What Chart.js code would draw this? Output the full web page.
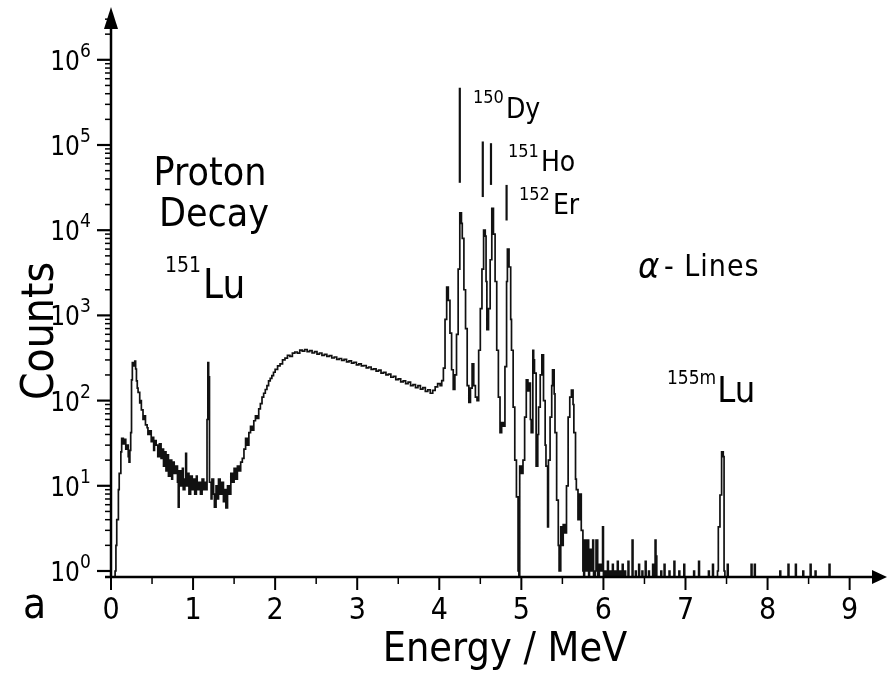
<!DOCTYPE html>
<html><head><meta charset="utf-8">
<script src="https://cdn.jsdelivr.net/npm/chart.js@4.4.1/dist/chart.umd.min.js"></script>
<style>html,body{margin:0;padding:0;background:#fff;}#wrap{width:887px;height:674px;}canvas{display:block;}</style>
</head><body><div id="wrap"><canvas id="c" width="887" height="674"></canvas></div>
<script>
// ---- data ----
const energyMeV = [
0.00,0.04,0.05,0.06,0.07,0.09,0.10,0.12,0.13,0.15,0.16,0.18,0.20,0.21,0.22,0.23,0.24,0.25,0.26,0.27,0.28,0.29,0.30,0.31,0.32,0.33,0.35,0.36,0.37,0.39,0.40,0.42,0.44,0.45,0.47,0.49,0.50,
0.52,0.53,0.55,0.57,0.59,0.61,0.62,0.64,0.65,0.67,0.69,0.70,0.72,0.74,0.75,0.77,0.79,0.81,0.82,0.83,0.85,0.87,0.88,0.90,0.91,0.92,0.94,0.95,0.97,0.99,
1.00,1.02,1.04,1.05,1.07,1.09,1.11,1.13,1.15,1.16,1.17,1.18,1.19,1.20,1.22,1.23,1.25,1.26,1.28,1.30,1.31,1.33,1.35,1.37,1.39,1.40,1.42,1.44,1.46,1.48,1.50,1.52,1.54,1.56,1.58,
1.60,1.62,1.64,1.66,1.68,1.70,1.72,1.74,1.76,1.78,
1.80,1.82,1.84,1.86,1.88,1.90,1.92,1.94,1.96,1.98,
2.00,2.03,2.06,2.09,2.12,2.15,2.18,2.21,2.24,2.27,
2.30,2.33,2.36,2.39,2.42,2.45,2.48,2.51,2.54,2.57,
2.60,2.63,2.66,2.69,2.72,2.75,2.78,2.81,2.84,2.87,
2.90,2.93,2.96,2.99,3.02,3.05,3.08,3.11,3.14,3.17,
3.20,3.23,3.26,3.29,3.32,3.35,3.38,3.41,3.44,3.47,
3.50,3.53,3.56,3.59,3.62,3.65,3.68,3.71,3.74,3.77,
3.80,3.83,3.86,3.89,3.92,3.95,3.98,4.01,4.03,4.05,
4.07,4.09,4.11,4.13,4.15,4.17,4.19,4.21,4.23,4.25,4.27,4.28,4.30,4.32,4.34,4.36,4.38,4.40,4.42,4.44,4.46,4.48,4.50,4.52,4.54,4.56,4.57,4.58,4.60,4.62,4.64,4.66,4.68,4.70,4.72,4.74,4.76,4.78,4.80,4.82,4.83,4.85,4.87,4.88,4.90,4.92,4.94,4.96,4.97,4.98,
5.00,5.02,5.04,5.06,5.08,5.09,5.11,5.12,5.14,5.15,5.16,5.18,5.20,5.21,5.23,5.25,5.27,5.29,5.30,5.32,5.33,5.35,5.37,5.38,5.40,5.41,5.43,5.45,5.46,5.48,5.50,5.51,5.53,5.55,5.57,5.59,5.61,5.63,5.64,5.66,5.67,5.69,5.71,5.73,5.75,5.76,5.77,5.79,5.80,5.82,5.83,5.85,5.87,5.88,5.90,5.91,5.93,5.95,5.97,5.99,
6.00,6.02,6.03,6.05,6.06,6.08,6.09,6.11,6.12,6.14,6.15,6.17,6.18,6.20,6.21,6.23,6.24,6.26,6.27,6.30,6.31,6.35,6.36,6.39,6.40,6.43,6.44,6.47,6.48,6.51,6.52,6.55,6.56,6.60,6.61,6.63,6.64,6.65,6.70,6.71,6.74,6.75,6.80,6.81,6.86,6.87,6.92,6.93,6.98,6.99,
7.10,7.11,7.16,7.17,7.28,7.29,7.33,7.34,7.39,7.40,7.42,7.44,7.46,7.47,7.48,7.51,7.52,7.80,7.81,7.84,7.85,8.15,8.16,8.25,8.26,8.34,8.35,8.43,8.44,8.52,8.53,8.58,8.59,8.75,8.76,9.37
];
const counts = [
0,0,1,2,4,9,14,25,36,31,35,27,30,22,19,26,42,175,280,255,270,290,235,170,140,125,94,100,78,60,66,52,48,40,44,33,37,
26,34,30,22,31,21,27,17,25,15,23,13,20,12,19,14,17,11,5.6,15,10,16,9,12,24,10,14,8,13,9,
12,8,13,9,11,8,12,9,11,9,60,280,190,11,7,12,8,5.6,10,7,12,8,11,6.5,9,5.5,10,8,14,11,16,12,17,15,19,
21,27,36,30,42,50,45,58,66,62,
80,92,110,122,135,150,170,182,196,215,
232,255,270,300,315,340,330,360,372,360,
392,380,398,375,385,362,375,352,362,340,
348,330,338,316,325,305,312,296,304,285,
292,275,282,262,270,255,258,242,248,232,
236,222,228,210,214,200,205,188,192,176,
180,166,170,158,165,150,154,142,150,136,
142,128,134,122,132,145,158,150,172,240,
900,2150,1500,620,230,135,200,600,3500,16000,12000,8000,2000,700,150,95,140,270,150,110,100,390,1200,3500,10000,8500,2500,680,1200,4500,18000,9000,2500,390,110,42,55,50,250,2500,6000,3700,900,390,84,20,7.4,1,0,17,
14,20,64,175,130,160,60,42,390,300,210,17,40,84,200,345,100,30,17,3.3,20,64,150,230,120,42,6.8,2,1,3.3,2,3.5,2.8,10,64,110,133,90,42,12,9,4,8,3,1,0,2.3,1,2.3,0,1.8,1,2.3,0,1,2.3,0,1.2,1,3.3,
0,1,0,1.3,0,1,0,1.2,0,1,0,1.3,0,1,0,1.2,0,1,0,1.3,0,2.3,0,1,0,1.2,0,1,0,1.3,0,1,0,1.2,0,2.3,1.5,0,1,0,1.2,0,1,0,1.3,0,1,0,1.2,0,
1,0,1.3,0,1,0,1.2,0,1,3.3,7.8,25,22,1,0,1.2,0,1.2,0,1.2,0,1,0,1.2,0,1.2,0,1,0,1.2,0,1,0,1.2,0,0
];
if (energyMeV.length !== counts.length) throw new Error('length mismatch ' + energyMeV.length + ' ' + counts.length);
// reference markers of the alpha lines (energy, counts at both ends)
const dy150E = [4.25, 4.25], dy150C = [3.6e4, 4.7e5];
const ho151aE = [4.53, 4.53], ho151aC = [2.45e4, 1.1e5];
const ho151bE = [4.63, 4.63], ho151bC = [3.4e4, 1.05e5];
const er152E = [4.82, 4.82], er152C = [1.3e4, 3.4e4];
// axes
const xRange = [0, 9.37];
const yRange = [0.85, 3.64e6];
const xTickValues = [0,1,2,3,4,5,6,7,8,9];
const xTickLabels = ['0','1','2','3','4','5','6','7','8','9'];
const xMinorValues = [0.5,1.5,2.5,3.5,4.5,5.5,6.5,7.5,8.5];
const yTickExponents = ['0','1','2','3','4','5','6'];

const FONT = '"DejaVu Sans Condensed","Liberation Sans Narrow","DejaVu Sans",sans-serif';
// empty bins (0 counts) sit on the bottom of the log axis
const pts = (es, cs) => es.map((e, i) => ({x: e, y: cs[i] > 0 ? cs[i] : yRange[0]}));
const markerStyle = {borderColor:'#111', borderWidth:2.2, pointRadius:0, fill:false};

function supText(ctx, x, supStr, baseStr, supSize, baseSize, supBaseline, baseBaseline, gap) {
  ctx.textAlign = 'left'; ctx.textBaseline = 'alphabetic';
  ctx.font = supSize + 'px ' + FONT;
  ctx.fillText(supStr, x, supBaseline);
  const w = ctx.measureText(supStr).width;
  ctx.font = baseSize + 'px ' + FONT;
  ctx.fillText(baseStr, x + w + gap, baseBaseline);
}

const axesPlugin = {
  id: 'axesPlugin',
  afterDatasetsDraw(chart) {
    const ctx = chart.ctx, xs = chart.scales.x, ys = chart.scales.y, a = chart.chartArea;
    ctx.save();
    ctx.strokeStyle = '#000'; ctx.fillStyle = '#000';
    // axis lines
    ctx.lineWidth = 2.5;
    ctx.beginPath(); ctx.moveTo(a.left, a.bottom + 1); ctx.lineTo(a.left, 24); ctx.stroke();
    ctx.beginPath(); ctx.moveTo(a.left - 6, a.bottom); ctx.lineTo(876, a.bottom); ctx.stroke();
    // arrows
    ctx.beginPath(); ctx.moveTo(a.left, 7); ctx.lineTo(a.left - 7, 29); ctx.lineTo(a.left + 7, 29); ctx.closePath(); ctx.fill();
    ctx.beginPath(); ctx.moveTo(887, a.bottom); ctx.lineTo(872, a.bottom - 7); ctx.lineTo(872, a.bottom + 7); ctx.closePath(); ctx.fill();
    // x ticks
    ctx.lineWidth = 2;
    xTickValues.forEach(v => { const px = xs.getPixelForValue(v); ctx.beginPath(); ctx.moveTo(px, a.bottom); ctx.lineTo(px, a.bottom + 13); ctx.stroke(); });
    ctx.lineWidth = 1.5;
    xMinorValues.forEach(v => { const px = xs.getPixelForValue(v); ctx.beginPath(); ctx.moveTo(px, a.bottom); ctx.lineTo(px, a.bottom + 7); ctx.stroke(); });
    // y ticks
    for (let n = 0; n <= 6; n++) {
      for (let k = 1; k <= 9; k++) {
        const v = k * Math.pow(10, n);
        if (v > ys.max) break;
        const py = ys.getPixelForValue(v);
        ctx.lineWidth = k === 1 ? 2.2 : 1.5;
        ctx.beginPath(); ctx.moveTo(a.left - (k === 1 ? 14 : 6), py); ctx.lineTo(a.left + 1, py); ctx.stroke();
      }
    }
    // x tick labels
    ctx.font = '30px ' + FONT; ctx.textAlign = 'center'; ctx.textBaseline = 'alphabetic';
    xTickValues.forEach((v, i) => ctx.fillText(xTickLabels[i], xs.getPixelForValue(v), 619));
    // y tick labels
    yTickExponents.forEach(e => {
      const py = ys.getPixelForValue(Math.pow(10, +e));
      ctx.font = '26px ' + FONT; ctx.textAlign = 'right'; ctx.textBaseline = 'alphabetic';
      ctx.fillText('10', 80, py + 10);
      ctx.font = '19px ' + FONT; ctx.textAlign = 'left';
      ctx.fillText(e, 80, py - 3);
    });
    // axis titles
    ctx.font = '41px ' + FONT; ctx.textAlign = 'center'; ctx.textBaseline = 'alphabetic';
    ctx.fillText('Energy / MeV', 505, 661);
    ctx.save(); ctx.translate(53, 331); ctx.rotate(-Math.PI / 2); ctx.font = '44px ' + FONT; ctx.fillText('Counts', 0, 0); ctx.restore();
    ctx.font = '42px ' + FONT; ctx.textAlign = 'left';
    ctx.fillText('a', 23, 618);
    // annotations
    ctx.font = '39px ' + FONT; ctx.textAlign = 'center';
    ctx.fillText('Proton', 210, 185);
    ctx.fillText('Decay', 214, 226);
    supText(ctx, 165, '151', 'Lu', 21, 40, 272, 298, 2);
    supText(ctx, 473, '150', 'Dy', 18, 28, 103, 118, 2);
    supText(ctx, 508, '151', 'Ho', 18, 28, 157, 171, 2);
    supText(ctx, 519, '152', 'Er', 18, 28, 200, 214, 3);
    supText(ctx, 667, '155m', 'Lu', 19, 36, 384, 402, 1);
    ctx.textAlign = 'left';
    ctx.font = 'italic 36px ' + FONT; ctx.fillText('\u03b1', 638, 278);
    ctx.font = '30px ' + FONT;
    if ('letterSpacing' in ctx) ctx.letterSpacing = '1px';
    ctx.fillText('- Lines', 664, 276);
    ctx.restore();
  }
};

new Chart(document.getElementById('c'), {
  type: 'line',
  data: { datasets: [
    { data: pts(energyMeV, counts), borderColor:'#111', borderWidth:1.7, pointRadius:0, tension:0, stepped:true, fill:false },
    Object.assign({ data: pts(dy150E, dy150C) }, markerStyle),
    Object.assign({ data: pts(ho151aE, ho151aC) }, markerStyle),
    Object.assign({ data: pts(ho151bE, ho151bC) }, markerStyle),
    Object.assign({ data: pts(er152E, er152C) }, markerStyle)
  ]},
  options: {
    responsive: false, animation: false, devicePixelRatio: 1,
    layout: { padding: { left: 111, right: 7, top: 12, bottom: 97 } },
    plugins: { legend: { display: false }, tooltip: { enabled: false } },
    scales: {
      x: { type: 'linear', min: xRange[0], max: xRange[1], display: false },
      y: { type: 'logarithmic', min: yRange[0], max: yRange[1], display: false }
    }
  },
  plugins: [axesPlugin]
});
</script></body></html>
